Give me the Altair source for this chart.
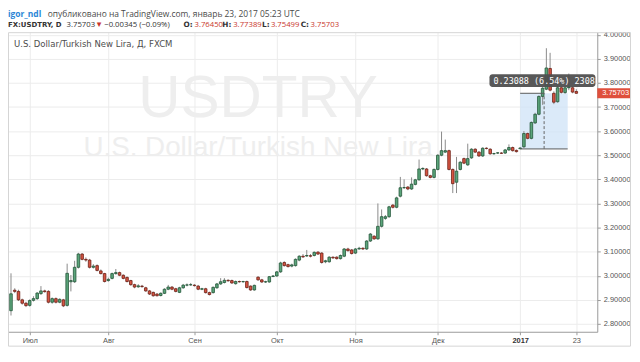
import json
import altair as alt
import pandas as pd

# ---------------- data ----------------
opens = [2.855, 2.940, 2.935, 2.900, 2.886, 2.877, 2.898, 2.905, 2.926, 2.937,
         2.935, 2.890, 2.905, 2.890, 2.900, 2.877, 2.975, 2.975, 3.035, 3.090,
         3.068, 3.065, 3.035, 3.042, 3.020, 3.009, 2.980, 2.989, 3.009, 3.013,
         3.002, 2.993, 2.980, 2.963, 2.954, 2.957, 2.950, 2.937, 2.931, 2.924,
         2.918, 2.927, 2.944, 2.953, 2.946, 2.931, 2.950, 2.961, 2.962, 2.961,
         2.957, 2.944, 2.946, 2.930, 2.930, 2.950, 2.966, 2.972, 2.981, 2.980,
         2.967, 2.976, 2.975, 2.976, 2.957, 2.941, 2.994, 2.983, 2.974, 2.974,
         2.997, 2.999, 3.016, 3.055, 3.046, 3.040, 3.042, 3.065, 3.081, 3.082,
         3.083, 3.084, 3.098, 3.094, 3.058, 3.058, 3.077, 3.077, 3.071, 3.081,
         3.111, 3.107, 3.094, 3.111, 3.114, 3.111, 3.144, 3.164, 3.153, 3.205,
         3.238, 3.245, 3.293, 3.284, 3.330, 3.365, 3.368, 3.360, 3.379, 3.398,
         3.443, 3.443, 3.415, 3.408, 3.441, 3.500, 3.513, 3.519, 3.441, 3.388,
         3.441, 3.486, 3.460, 3.489, 3.525, 3.513, 3.497, 3.529, 3.525, 3.506,
         3.509, 3.509, 3.509, 3.522, 3.532, 3.520, 3.527, 3.535, 3.590, 3.570,
         3.634, 3.670, 3.744, 3.774, 3.860, 3.757, 3.722, 3.780, 3.760, 3.780,
         3.780, 3.7645]
highs = [3.010, 2.948, 2.942, 2.905, 2.892, 2.902, 2.915, 2.932, 2.957, 2.942,
         2.940, 2.910, 2.910, 2.906, 2.904, 3.050, 3.003, 3.062, 3.095, 3.094,
         3.076, 3.070, 3.048, 3.047, 3.026, 3.012, 2.992, 3.013, 3.028, 3.017,
         3.006, 2.997, 2.983, 2.967, 2.965, 2.962, 2.954, 2.941, 2.934, 2.928,
         2.931, 2.948, 2.962, 2.957, 2.950, 2.954, 2.966, 2.968, 2.970, 2.965,
         2.962, 2.950, 2.950, 2.934, 2.955, 2.970, 2.990, 2.990, 2.985, 2.984,
         2.980, 2.980, 2.979, 2.980, 2.960, 2.963, 2.998, 2.987, 2.979, 2.999,
         3.003, 3.020, 3.058, 3.060, 3.050, 3.050, 3.072, 3.085, 3.090, 3.107,
         3.090, 3.101, 3.102, 3.098, 3.066, 3.081, 3.080, 3.081, 3.088, 3.115,
         3.116, 3.111, 3.115, 3.120, 3.118, 3.148, 3.177, 3.168, 3.300, 3.275,
         3.252, 3.290, 3.298, 3.328, 3.410, 3.400, 3.372, 3.408, 3.402, 3.482,
         3.450, 3.447, 3.419, 3.445, 3.504, 3.598, 3.565, 3.523, 3.445, 3.493,
         3.475, 3.490, 3.548, 3.529, 3.529, 3.517, 3.533, 3.533, 3.529, 3.510,
         3.513, 3.513, 3.526, 3.545, 3.536, 3.524, 3.533, 3.600, 3.594, 3.640,
         3.676, 3.748, 3.785, 3.944, 3.925, 3.765, 3.790, 3.786, 3.786, 3.839,
         3.786, 3.77389]
lows = [2.835, 2.928, 2.895, 2.880, 2.870, 2.872, 2.893, 2.900, 2.920, 2.930,
        2.885, 2.884, 2.885, 2.886, 2.870, 2.872, 2.935, 2.970, 3.030, 3.064,
        3.058, 3.030, 3.030, 3.018, 3.005, 2.972, 2.975, 2.985, 3.004, 2.998,
        2.985, 2.972, 2.958, 2.948, 2.950, 2.950, 2.933, 2.920, 2.913, 2.914,
        2.914, 2.924, 2.940, 2.940, 2.931, 2.928, 2.946, 2.956, 2.958, 2.955,
        2.940, 2.940, 2.926, 2.918, 2.926, 2.946, 2.962, 2.968, 2.975, 2.966,
        2.963, 2.971, 2.971, 2.947, 2.937, 2.938, 2.979, 2.970, 2.970, 2.971,
        2.994, 2.996, 3.012, 3.038, 3.034, 3.035, 3.038, 3.060, 3.074, 3.078,
        3.076, 3.080, 3.086, 3.050, 3.052, 3.054, 3.070, 3.067, 3.067, 3.077,
        3.100, 3.088, 3.090, 3.108, 3.107, 3.107, 3.140, 3.149, 3.149, 3.200,
        3.232, 3.240, 3.279, 3.280, 3.325, 3.360, 3.355, 3.356, 3.375, 3.394,
        3.438, 3.411, 3.404, 3.404, 3.437, 3.496, 3.509, 3.437, 3.343, 3.343,
        3.437, 3.463, 3.456, 3.485, 3.509, 3.493, 3.493, 3.524, 3.502, 3.502,
        3.505, 3.505, 3.505, 3.518, 3.515, 3.511, 3.526, 3.530, 3.566, 3.566,
        3.630, 3.666, 3.709, 3.770, 3.765, 3.712, 3.718, 3.756, 3.755, 3.770,
        3.757, 3.75499]
closes = [2.925, 2.935, 2.900, 2.886, 2.876, 2.897, 2.905, 2.928, 2.937, 2.934,
          2.890, 2.905, 2.890, 2.902, 2.875, 3.010, 2.980, 3.035, 3.090, 3.068,
          3.065, 3.035, 3.040, 3.022, 3.009, 2.976, 2.985, 3.009, 3.013, 3.002,
          2.989, 2.976, 2.963, 2.953, 2.958, 2.955, 2.937, 2.924, 2.917, 2.917,
          2.927, 2.944, 2.953, 2.944, 2.935, 2.950, 2.961, 2.962, 2.963, 2.959,
          2.944, 2.946, 2.930, 2.922, 2.952, 2.966, 2.975, 2.981, 2.979, 2.970,
          2.976, 2.975, 2.976, 2.951, 2.941, 2.960, 2.983, 2.974, 2.975, 2.996,
          2.999, 3.016, 3.053, 3.042, 3.038, 3.045, 3.068, 3.081, 3.078, 3.084,
          3.081, 3.097, 3.090, 3.055, 3.062, 3.077, 3.074, 3.071, 3.084, 3.111,
          3.104, 3.092, 3.111, 3.114, 3.111, 3.144, 3.173, 3.153, 3.205, 3.245,
          3.245, 3.286, 3.284, 3.323, 3.365, 3.366, 3.360, 3.380, 3.398, 3.443,
          3.445, 3.415, 3.408, 3.441, 3.500, 3.519, 3.519, 3.441, 3.382, 3.434,
          3.471, 3.467, 3.486, 3.525, 3.513, 3.497, 3.529, 3.528, 3.506, 3.507,
          3.510, 3.508, 3.522, 3.532, 3.519, 3.515, 3.530, 3.590, 3.570, 3.636,
          3.670, 3.744, 3.778, 3.862, 3.770, 3.720, 3.780, 3.761, 3.780, 3.783,
          3.762, 3.75703]

first_day, last_day = "2016-06-24", "2017-01-23"
tick_dates = ["2016-07-01", "2016-08-01", "2016-09-01", "2016-10-03",
              "2016-11-01", "2016-12-01", "2017-01-02", "2017-01-23"]
tick_labels = ["Июл", "Авг", "Сен", "Окт", "Ноя", "Дек", "2017", "23"]
y_ticks = [2.8, 2.9, 3.0, 3.1, 3.2, 3.3, 3.4, 3.5, 3.6, 3.7, 3.8, 3.9, 4.0]

header_line1 = ["igor_ndl",
                "опубликовано на TradingView.com, январь 23, 2017 05:23 UTC"]
header_line2 = ["FX:USDTRY, D", "3.75703", "▼", "−0.00345 (−0.09%)",
                "O:", "3.76450", "H:", "3.77389", "L:", "3.75499", "C:", "3.75703"]
legend_text = "U.S. Dollar/Turkish New Lira, Д, FXCM"
watermark = ["USDTRY", "U.S. Dollar/Turkish New Lira"]

# price-range drawing (bar index, price)
range_bars = [136.0, 148.7]
range_mid_bar = 142.4
range_prices = [3.52615, 3.75703]
range_label = "0.23088 (6.54%) 2308.8"
range_box_bars = [127.8, 156.1]
range_box_prices = [3.783, 3.836]

# ---------------- tables ----------------
dates = pd.bdate_range(first_day, last_day)
df = pd.DataFrame({
    "i": range(len(opens)),
    "date": dates.strftime("%Y-%m-%d")[:len(opens)],
    "open": opens, "high": highs, "low": lows, "close": closes,
})
date_list = list(df["date"])
tick_idx = [date_list.index(d) for d in tick_dates]

W, H = 594, 302
xs = alt.Scale(domain=[-0.8, 156.6], nice=False, zero=False, padding=0)
ys = alt.Scale(domain=[2.7675, 4.0106], nice=False, zero=False, padding=0)

AXC = "#9a9a9a"
GRID = "#ececec"
LBL = "#555555"

label_expr = (f"{json.dumps(tick_labels, ensure_ascii=False)}"
              f"[indexof({json.dumps(tick_idx)}, datum.value)]")
x_axis = alt.Axis(values=tick_idx, labelExpr=label_expr, grid=True, gridColor=GRID,
                  domainColor=AXC, tickColor=AXC, tickSize=3, labelFontSize=7.5,
                  labelColor=alt.condition(f"datum.value == {tick_idx[6]}",
                                           alt.value("#333333"), alt.value(LBL)),
                  labelFontWeight=alt.condition(f"datum.value == {tick_idx[6]}",
                                                alt.value("bold"), alt.value("normal")),
                  labelFont="Liberation Sans", labelPadding=2, title=None,
                  labelFlush=False, labelOverlap=False)
y_axis = alt.Axis(orient="right", values=y_ticks, format=".5f", grid=True,
                  gridColor=GRID, domainColor=AXC, tickColor=AXC, tickSize=3,
                  labelFontSize=7.5, labelColor=LBL, labelFont="Liberation Sans",
                  labelPadding=3, title=None, labelFlush=False, labelOverlap=False)

UP, UPB = "#5ba57b", "#225437"
DN, DNB = "#d75442", "#6b1f15"
is_up = "datum.close >= datum.open"


def X(field):
    return alt.X(field, scale=xs, axis=x_axis)


def Y(field):
    return alt.Y(field, scale=ys, axis=y_axis)


base = alt.Chart(df)
wicks = base.mark_rule(color="#8a8a8a", strokeWidth=1).encode(
    x=X("i:Q"), y=Y("low:Q"), y2="high:Q")
bodies = base.mark_bar(size=2.6, strokeWidth=0.8).encode(
    x=X("i:Q"),
    y=Y("open:Q"),
    y2="close:Q",
    fill=alt.condition(is_up, alt.value(UP), alt.value(DN)),
    stroke=alt.condition(is_up, alt.value(UPB), alt.value(DNB)),
)


def txt(s, x, y, size, color, weight="normal", font="Open Sans", align="left"):
    return alt.Chart(pd.DataFrame({"t": [s]})).mark_text(
        align=align, baseline="middle", fontSize=size, color=color,
        fontWeight=weight, font=font,
    ).encode(text="t:N", x=alt.value(x), y=alt.value(y))


# watermark
wm = (txt(watermark[0], 252, 68, 59, "#eeeeee", font="Liberation Sans", align="center")
      + txt(watermark[1], 252, 117, 28, "#eeeeee", font="Liberation Sans", align="center"))

# range drawing
rng_df = pd.DataFrame({"x": [range_bars[0]], "x2": [range_bars[1]],
                       "y": [range_prices[0]], "y2": [range_prices[1]],
                       "xm": [range_mid_bar]})
rng_rect = alt.Chart(rng_df).mark_rect(color="#cfe3f7", opacity=0.75).encode(
    x=X("x:Q"), x2="x2:Q", y=Y("y:Q"), y2="y2:Q")
rng_bottom = alt.Chart(rng_df).mark_rule(color="#5a5a5a", strokeWidth=1).encode(
    x=X("x:Q"), x2="x2:Q", y=Y("y:Q"))
rng_top = alt.Chart(rng_df).mark_rule(color="#5a5a5a", strokeWidth=1).encode(
    x=X("x:Q"), x2="xm:Q", y=Y("y2:Q"))
rng_mid = alt.Chart(rng_df).mark_rule(color="#666666", strokeWidth=1,
                                      strokeDash=[3, 2]).encode(
    x=X("xm:Q"), y=Y("y:Q"), y2="y2:Q")

box_df = pd.DataFrame({"x": [range_box_bars[0]], "x2": [range_box_bars[1]],
                       "y": [range_box_prices[0]], "y2": [range_box_prices[1]],
                       "t": [range_label]})
box = alt.Chart(box_df).mark_rect(color="#4f4f4f", opacity=0.95, cornerRadius=3,
                                  clip=True).encode(
    x=X("x:Q"), x2="x2:Q", y=Y("y:Q"), y2="y2:Q")
box_txt = alt.Chart(box_df).mark_text(align="left", baseline="middle", color="white",
                                      font="DejaVu Sans Mono", fontSize=8.5,
                                      clip=True, dx=4).encode(
    x=X("x:Q"),
    y=Y("mid:Q"),
    text="t:N",
).transform_calculate(mid="(datum.y + datum.y2) / 2")

# last price tag on the axis
tag_df = pd.DataFrame({"p": [closes[-1]], "t": [f"{closes[-1]:.5f}"]})
tag = alt.Chart(tag_df).mark_rule(color="#df4f3c", strokeWidth=10).encode(
    x=alt.value(W), x2=alt.value(W + 34), y=Y("p:Q"))
tag_txt = alt.Chart(tag_df).mark_text(align="left", baseline="middle", color="white",
                                      fontSize=7.5, font="Liberation Sans").encode(
    x=alt.value(W + 5), y=Y("p:Q"), text="t:N")

# header
RED = "#c9372c"
DARK = "#333333"
y1, y2 = -18, -7
hdr = [
    txt(header_line1[0], 0, y1, 8.5, "#2a86d6", "bold"),
    txt(header_line1[1], 40, y1, 8.5, "#4a4a4a"),
]
l2_pos = [0, 59, 88, 97, 177, 188, 216, 227, 256, 265, 295, 305]
l2_col = [DARK, DARK, RED, DARK, DARK, RED, DARK, RED, DARK, RED, DARK, RED]
l2_size = [7.0, 7.8, 7.8, 7.8, 7.4, 7.8, 7.4, 7.8, 7.4, 7.8, 7.4, 7.8]
l2_bold = [True, False, False, False, True, False, True, False, True, False, True, False]
for s, x, c, sz, b in zip(header_line2, l2_pos, l2_col, l2_size, l2_bold):
    if b:
        hdr.append(txt(s, x, y2, sz, c, "bold", font="DejaVu Sans"))
    else:
        hdr.append(txt(s, x, y2, sz, c, "normal"))

legend = txt(legend_text, 6, 11.5, 8.6, "#4d4d4d", "normal", font="DejaVu Sans")

frame = alt.Chart(pd.DataFrame({"a": [0]})).mark_rect(
    fillOpacity=0, stroke="#d4d4d4", strokeWidth=1).encode(
    x=alt.value(0.5), x2=alt.value(W + 33.5), y=alt.value(0.5), y2=alt.value(H + 14.5))

chart = alt.layer(
    wm, rng_rect, wicks, bodies, rng_bottom, rng_top, rng_mid, box, box_txt,
    tag, tag_txt, legend, frame, *hdr,
).properties(
    width=W, height=H,
    autosize=alt.AutoSizeParams(type="none"),
    padding={"left": 0, "top": 23, "right": 35, "bottom": 15},
).configure(background="white").configure_view(strokeWidth=0)

chart.save("out.html", embed_options={"renderer": "svg", "actions": False})
